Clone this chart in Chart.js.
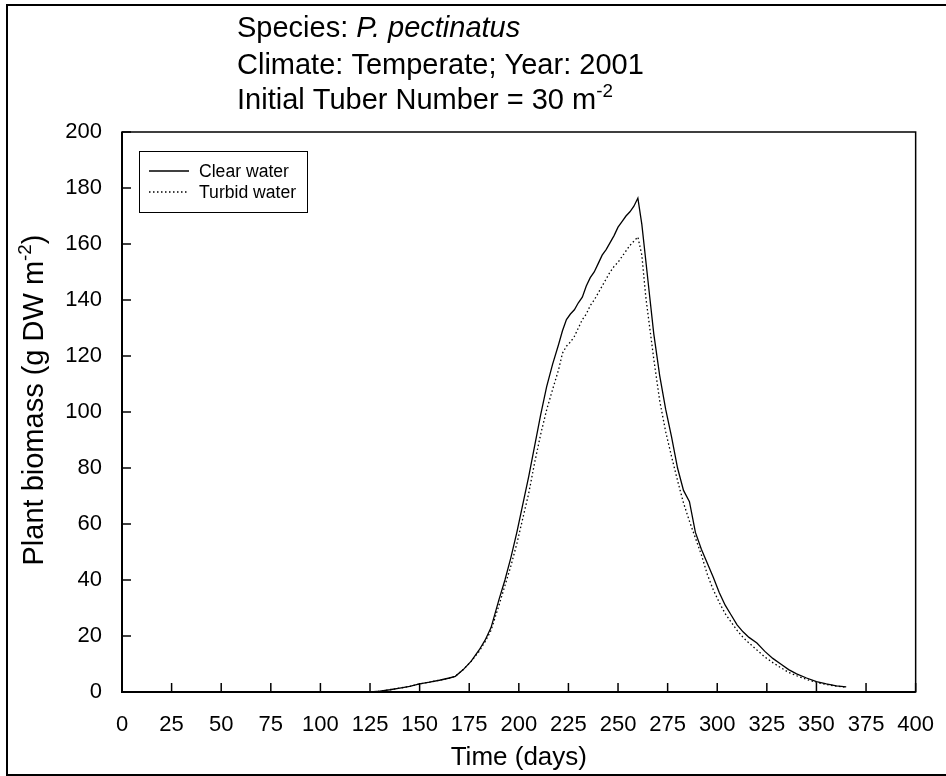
<!DOCTYPE html>
<html><head><meta charset="utf-8">
<script src="https://cdn.jsdelivr.net/npm/chart.js@4.4.0/dist/chart.umd.min.js"></script>
<style>html,body{margin:0;padding:0;background:#fff;}canvas{display:block;}</style>
</head><body>
<canvas id="c" width="946" height="776"></canvas>
<script>
const days = [125,130,135,140,145,150,155,160,165,168,172,176,180,183,186,190,193,196,199,202,205,208,211,214,217,220,222,224,226,228,230,232,234,236,238,240,242,244,246,248,250,252,254,256,258,260,262,264,266,268,271,274,277,280,283,286,289,292,295,298,301,304,307,310,313,316,320,324,328,332,336,340,345,350,355,360,365];
const clearWater = [0,0.3,0.8,1.4,2.0,2.9,3.5,4.2,5.0,5.6,8.0,11,15,18.5,23,33,40,48,57,67,77,88,99,109,117,124,129,133,135,136.5,139,141,145,148,150,153,156,158,160.5,163,166,168,170,171.5,173.5,176.4,167,154,141,128,113,101,91,80,72,68,57,51,46,41,35.5,31,27.5,24,21.5,19.5,17.5,14.5,12,10,8,6.5,5,3.7,2.9,2.2,1.8];
const turbidWater = [0,0.3,0.8,1.4,2.0,2.9,3.5,4.2,5.0,5.6,8.0,11,14.5,18,22,31,38,45,53,62,71,82,92,100.7,108,115,121,123.5,125,127,130,133,135,138,140,142.5,145,147.5,150,152,153.5,155.5,157.5,159.5,161,162.5,156,141,130,119,104,93,84,75.5,67.5,61,55,49,42,36.5,32,28,25,22,19.5,17.5,15,12.5,10.5,8.7,7,5.8,4.5,3.4,2.7,2.1,1.7];
const seriesLabels = ["Clear water", "Turbid water"];
const xTickValues = [0,25,50,75,100,125,150,175,200,225,250,275,300,325,350,375,400];
const yTickValues = [0,20,40,60,80,100,120,140,160,180,200];
const xAxisTitle = "Time (days)";
const yAxisTitle = [{t:"Plant biomass (g DW m"},{t:"-2",sup:true},{t:")"}];
const titleLines = [
  [{t:"Species: "},{t:"P. pectinatus",italic:true}],
  [{t:"Climate: Temperate; Year: 2001"}],
  [{t:"Initial Tuber Number = 30 m"},{t:"-2",sup:true}]
];

const FONT = '"Liberation Sans", Arial, Helvetica, sans-serif';
const DOT = [1.5, 2.5];

function fontStr(size, italic){ return (italic?'italic ':'') + size + 'px ' + FONT; }
function richWidth(ctx, parts, size){
  let w = 0;
  parts.forEach(p=>{ ctx.font = fontStr(p.sup?size*0.65:size, p.italic); w += ctx.measureText(p.t).width; });
  return w;
}
function drawRich(ctx, parts, x, y, size){
  parts.forEach(p=>{
    const s = p.sup ? size*0.65 : size;
    ctx.font = fontStr(s, p.italic);
    ctx.fillText(p.t, x, p.sup ? y - size*0.42 : y);
    x += ctx.measureText(p.t).width;
  });
}

const decorPlugin = {
  id: 'decor',
  afterDraw(chart){
    const ctx = chart.ctx, a = chart.chartArea;
    const xs = chart.scales.x, ys = chart.scales.y;
    ctx.save();
    ctx.strokeStyle = '#000'; ctx.fillStyle = '#000';
    // outer frame
    ctx.lineWidth = 2;
    ctx.strokeRect(7, 5, 946, 770);
    // plot frame
    ctx.lineWidth = 1.5;
    ctx.strokeRect(a.left, a.top, a.right - a.left, a.bottom - a.top);
    ctx.lineWidth = 2;
    ctx.beginPath(); ctx.moveTo(a.left, a.top); ctx.lineTo(a.left, a.bottom); ctx.lineTo(a.right, a.bottom); ctx.stroke();
    // inward ticks
    ctx.lineWidth = 1.5;
    xs.ticks.forEach(t=>{ const px = xs.getPixelForValue(t.value); ctx.beginPath(); ctx.moveTo(px, a.bottom); ctx.lineTo(px, a.bottom - 9); ctx.stroke(); });
    ys.ticks.forEach(t=>{ const py = ys.getPixelForValue(t.value); ctx.beginPath(); ctx.moveTo(a.left, py); ctx.lineTo(a.left + 9, py); ctx.stroke(); });
    // titles
    ctx.textAlign = 'left'; ctx.textBaseline = 'alphabetic';
    const tSize = 29, baselines = [37, 74, 109];
    titleLines.forEach((parts, i)=> drawRich(ctx, parts, 237, baselines[i], tSize));
    // x axis title
    ctx.font = fontStr(26);
    ctx.textAlign = 'center';
    ctx.fillText(xAxisTitle, (a.left + a.right)/2, 765);
    // y axis title
    ctx.save();
    ctx.translate(43, 400);
    ctx.rotate(-Math.PI/2);
    ctx.textAlign = 'left';
    const yw = richWidth(ctx, yAxisTitle, 29);
    drawRich(ctx, yAxisTitle, -yw/2, 0, 29);
    ctx.restore();
    // legend
    ctx.lineWidth = 1;
    ctx.strokeRect(139.5, 151.5, 168, 61);
    const ly = [171, 192];
    chart.data.datasets.forEach((ds, i)=>{
      ctx.save();
      ctx.lineWidth = ds.borderWidth;
      ctx.setLineDash(ds.borderDash || []);
      ctx.beginPath(); ctx.moveTo(149, ly[i]); ctx.lineTo(189, ly[i]); ctx.stroke();
      ctx.restore();
      ctx.font = fontStr(17.6);
      ctx.textAlign = 'left'; ctx.textBaseline = 'middle';
      ctx.fillText(ds.label, 199, ly[i] + 1);
    });
    ctx.restore();
  }
};

new Chart(document.getElementById('c'), {
  type: 'line',
  data: {
    datasets: [
      { label: seriesLabels[0], data: days.map((d,i)=>({x:d, y:clearWater[i]})), borderColor:'#000', borderWidth:1.3, pointRadius:0, tension:0, fill:false },
      { label: seriesLabels[1], data: days.map((d,i)=>({x:d, y:turbidWater[i]})), borderColor:'#000', borderWidth:1.3, borderDash:DOT, pointRadius:0, tension:0, fill:false }
    ]
  },
  options: {
    responsive: false,
    animation: false,
    layout: { padding: { top: 132, right: 23, left: 0, bottom: 0 } },
    plugins: { legend: { display:false }, title: { display:false }, tooltip: { enabled:false } },
    scales: {
      x: {
        type: 'linear', min: 0, max: 400,
        afterBuildTicks: s => { s.ticks = xTickValues.map(v=>({value:v})); },
        afterFit: s => { s.height = 84; },
        grid: { display:false }, border: { display:false },
        ticks: { font: { family: FONT, size: 22 }, color:'#000', padding: 12, autoSkip:false, maxRotation:0 }
      },
      y: {
        type: 'linear', min: 0, max: 200,
        afterBuildTicks: s => { s.ticks = yTickValues.map(v=>({value:v})); },
        afterFit: s => { s.width = 122; },
        grid: { display:false }, border: { display:false },
        ticks: { font: { family: FONT, size: 22 }, color:'#000', padding: 12, autoSkip:false }
      }
    }
  },
  plugins: [decorPlugin]
});
</script>
</body></html>
